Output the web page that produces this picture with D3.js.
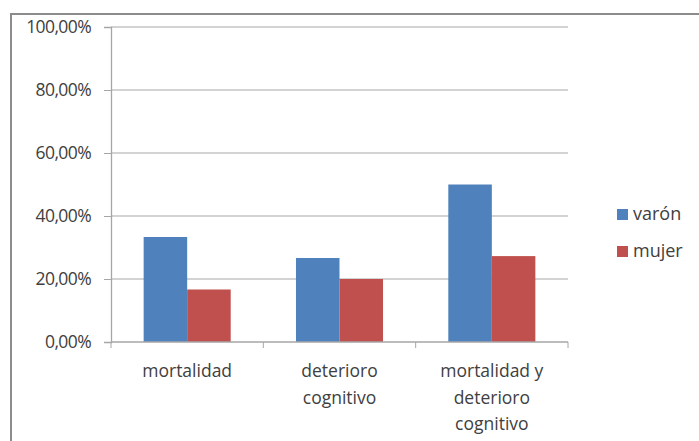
<!DOCTYPE html>
<html>
<head>
<meta charset="utf-8">
<script src="https://cdn.jsdelivr.net/npm/d3@7"></script>
<style>
  body { margin: 0; background: #fff; }
  svg text { font-family: "Open Sans", "Liberation Sans", sans-serif; fill: #404040; }
</style>
</head>
<body>
<svg id="chart" width="699" height="441"></svg>
<script>
const categories = [["mortalidad"], ["deterioro", "cognitivo"], ["mortalidad y", "deterioro", "cognitivo"]];
const series = ["varón", "mujer"];
const varon = [33.33, 26.67, 50.0];
const mujer = [16.67, 20.0, 27.27];
const yTicks = [0, 20, 40, 60, 80, 100];
const colors = ["#4F81BD", "#C0504D"];

const svg = d3.select("#chart");
const plot = { left: 111, right: 568, top: 27, bottom: 342 };

// outer chart frame
svg.append("rect")
    .attr("x", 11).attr("y", 14)
    .attr("width", 720).attr("height", 460)
    .attr("fill", "none")
    .attr("stroke", "#8c8c8c")
    .attr("stroke-width", 2);

const x = d3.scaleBand()
    .domain(d3.range(categories.length))
    .range([plot.left, plot.right]);

const inner = d3.scaleBand()
    .domain(series)
    .range([0, x.bandwidth()])
    .paddingOuter(0.75)
    .paddingInner(0);

const y = d3.scaleLinear()
    .domain([0, 100])
    .range([plot.bottom, plot.top]);

// gridlines
svg.append("g")
    .selectAll("line")
    .data(yTicks.slice(1))
    .enter().append("line")
    .attr("x1", plot.left).attr("x2", plot.right)
    .attr("y1", d => y(d)).attr("y2", d => y(d))
    .attr("stroke", "#c4c4c4")
    .attr("stroke-width", 1.3);

// y axis
const yAxis = d3.axisLeft(y)
    .tickValues(yTicks)
    .tickSize(7)
    .tickPadding(13)
    .tickFormat(d => d3.format(".2f")(d).replace(".", ",") + "%");

const yg = svg.append("g")
    .attr("transform", "translate(" + plot.left + ",0)")
    .call(yAxis);
yg.attr("font-size", null).attr("font-family", null);
yg.select(".domain").attr("stroke", "#a6a6a6").attr("stroke-width", 1.3);
yg.selectAll(".tick line").attr("stroke", "#a6a6a6");
yg.selectAll(".tick text")
    .style("font-size", "17.5px")
    .attr("fill", "#404040")
    .attr("letter-spacing", -0.6);

// bars
const rows = categories.map((c, i) => ({ i: i, values: [varon[i], mujer[i]] }));
const groups = svg.append("g")
    .selectAll("g")
    .data(rows)
    .enter().append("g")
    .attr("transform", d => "translate(" + x(d.i) + ",0)");

groups.selectAll("rect")
    .data(d => d.values.map((v, k) => ({ key: series[k], value: v, k: k })))
    .enter().append("rect")
    .attr("x", d => inner(d.key))
    .attr("width", inner.bandwidth())
    .attr("y", d => y(d.value))
    .attr("height", d => y(0) - y(d.value))
    .attr("fill", d => colors[d.k]);

// x axis
const xg = svg.append("g")
    .attr("transform", "translate(0," + plot.bottom + ")");
xg.append("line")
    .attr("x1", plot.left).attr("x2", plot.right)
    .attr("stroke", "#a6a6a6").attr("stroke-width", 1.3);
xg.selectAll(".cat-tick")
    .data(d3.range(categories.length + 1))
    .enter().append("line")
    .attr("class", "cat-tick")
    .attr("x1", d => d < categories.length ? x(d) : plot.right)
    .attr("x2", d => d < categories.length ? x(d) : plot.right)
    .attr("y1", 0).attr("y2", 6)
    .attr("stroke", "#a6a6a6");

const labels = xg.selectAll(".cat-label")
    .data(categories)
    .enter().append("text")
    .attr("class", "cat-label")
    .attr("text-anchor", "middle")
    .style("font-size", "17.5px")
    .attr("x", (d, i) => x(i) + x.bandwidth() / 2)
    .attr("y", 35);
labels.selectAll("tspan")
    .data(d => d)
    .enter().append("tspan")
    .attr("x", function () { return d3.select(this.parentNode).attr("x"); })
    .attr("dy", (d, i) => i === 0 ? 0 : 26.5)
    .text(d => d);

// legend
const legend = svg.append("g")
    .selectAll("g")
    .data(series)
    .enter().append("g")
    .attr("transform", (d, i) => "translate(617," + (214 + i * 37) + ")");
legend.append("rect")
    .attr("x", 0).attr("y", -5)
    .attr("width", 11).attr("height", 11)
    .attr("fill", (d, i) => colors[i]);
legend.append("text")
    .attr("x", 16).attr("y", 6)
    .style("font-size", "18px")
    .text(d => d);
</script>
</body>
</html>
